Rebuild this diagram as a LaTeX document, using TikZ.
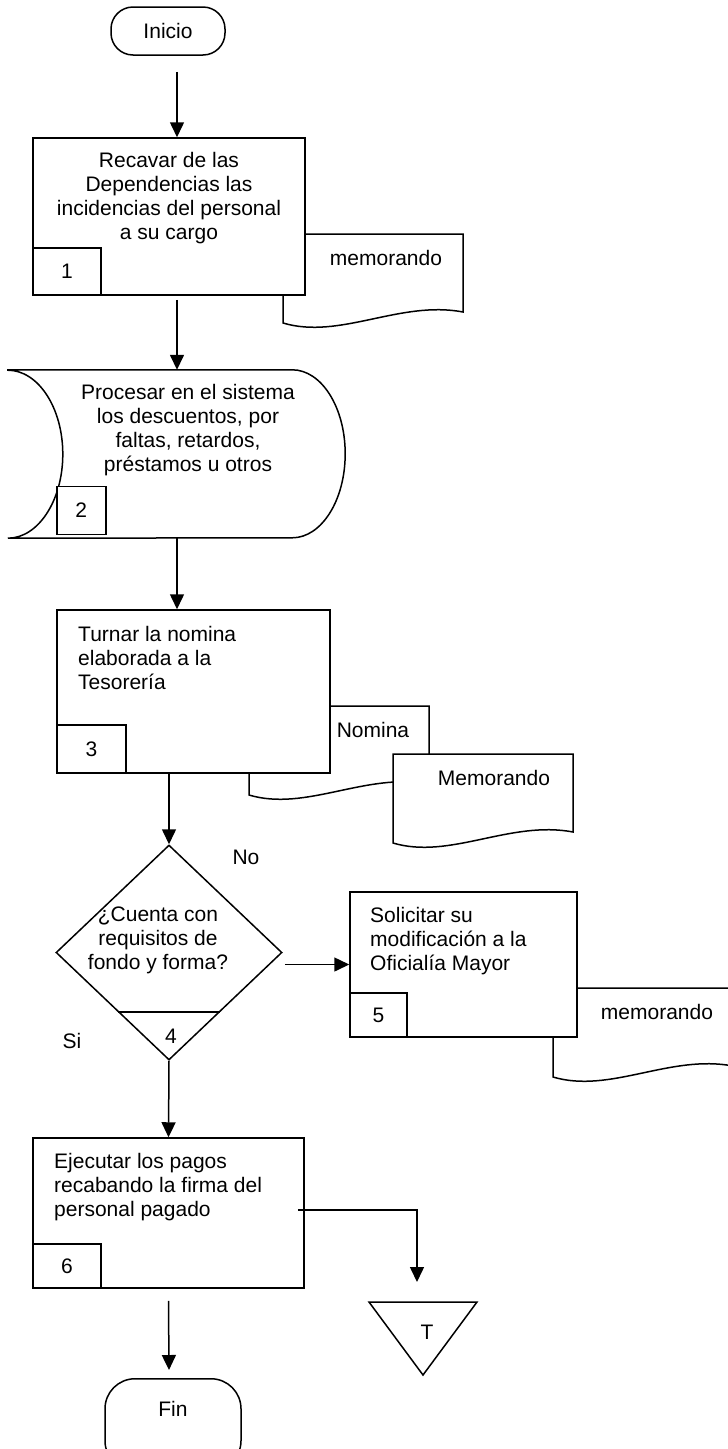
\documentclass[tikz,border=0pt]{standalone}
\usepackage{fontspec}
\setmainfont{Liberation Sans}
\usetikzlibrary{arrows.meta,shapes.geometric,calc}

\tikzset{
  txt/.style={font=\fontsize{21}{24}\selectfont, inner sep=0pt},
  box/.style={draw, line width=1.5pt, fill=white},
  numbox/.style={box, txt, anchor=south west},
  term/.style={box, txt, rounded corners=22pt},
  doc/.style={draw, line width=1.5pt, fill=white},
  arrow/.style={line width=1.5pt, -{Triangle[length=15pt,width=14pt]}},
}

\begin{document}
\begin{tikzpicture}[x=1pt, y=-1pt]
        \useasboundingbox (0,0) rectangle (728,1449);
        \fill[white] (0,0) rectangle (728,1449);
        \clip (0,0) rectangle (728,1449);

        % documents (behind the boxes)
        \foreach \dx/\dy/\tx/\lbl [count=\i] in {283/234/103/memorando, 249/706/124/Nomina, 393/754/101/Memorando, 553/988/104/memorando}{
            \draw[doc] (\dx,\dy) -- (\dx+180,\dy) -- (\dx+180,\dy+78)
                .. controls (\dx+117,\dy+66) and (\dx+57,\dy+106) .. (\dx,\dy+89) -- cycle;
            \node[txt] (doc\i) at (\dx+\tx,\dy+24) {\lbl};
        }

        % start
        \node[term, minimum width=114pt, minimum height=48pt] (ini) at (168,31) {Inicio};

        % 1
        \node[box, minimum width=272pt, minimum height=157pt] (b1) at (169,216.5) {};
        \node[txt, align=center] (t1) at (169,198.5) {Recavar de las\\Dependencias las\\incidencias del personal\\a su cargo};
        \node[numbox, minimum width=68pt, minimum height=47pt] (n1) at (b1.south west) {1};

        % 2
        \node[minimum width=284pt, minimum height=168pt, inner sep=0pt] (s2) at (150,454) {};
        \draw[box] (s2.north west) -- (s2.north east)
            arc[start angle=90, end angle=-90, x radius=53pt, y radius=84pt]
            -- (s2.south west)
            arc[start angle=-90, end angle=90, x radius=55pt, y radius=84pt] -- cycle;
        \node[txt, align=center] (t2) at (188,430) {Procesar en el sistema\\los descuentos, por\\faltas, retardos,\\préstamos u otros};
        \node[numbox, minimum width=49pt, minimum height=48pt] (n2) at (56,535) {2};

        % 3
        \node[box, minimum width=273pt, minimum height=163pt] (b3) at (193.5,691.5) {};
        \node[txt, anchor=west, align=left] (t3) at (78,658) {Turnar la nomina\\elaborada a la\\Tesorería};
        \node[numbox, minimum width=69pt, minimum height=48pt] (n3) at (b3.south west) {3};

        % 4
        \node[box, diamond, minimum width=226pt, minimum height=215pt, inner sep=0pt] (d4) at (169,952.5) {};
        \draw[line width=1.5pt] ($(d4.south)!0.45!(d4.west)$) -- ($(d4.south)!0.45!(d4.east)$);
        \node[txt, align=center] (t4) at (158,940) {¿Cuenta con\\requisitos de\\fondo y forma?};
        \node[txt] (n4) at (171,1036) {4};
        \node[txt] (no) at (246,857) {No};
        \node[txt] (si) at (72,1041) {Si};

        % 5
        \node[box, minimum width=227pt, minimum height=145pt] (b5) at (463.5,964.5) {};
        \node[txt, anchor=west, align=left] (t5) at (370,941) {Solicitar su\\modificación a la\\Oficialía Mayor};
        \node[numbox, minimum width=57pt, minimum height=44pt] (n5) at (b5.south west) {5};

        % 6
        \node[box, minimum width=271pt, minimum height=150pt] (b6) at (168.5,1213) {};
        \node[txt, anchor=west, align=left] (t6) at (54,1187) {Ejecutar los pagos\\recabando la firma del\\personal pagado};
        \node[numbox, minimum width=68pt, minimum height=44pt] (n6) at (b6.south west) {6};

        % connector T
        \draw[line width=1.5pt] (369,1302) -- (477,1302) -- (423,1375) -- cycle;
        \node[txt] (tT) at (427,1332) {T};
        \coordinate (trtop) at (417,1282);

        % end
        \node[term, anchor=north, minimum width=136pt, text height=15pt, text depth=32pt, inner ysep=22.5pt, rounded corners=30pt] (fin) at (173,1378) {Fin};

        % arrows
        \draw[arrow] ($(ini.south)+(9,16)$) -- ($(b1.north)+(8,0)$);
        \draw[arrow] ($(b1.south)+(8,4)$) -- ($(s2.north)+(27,0)$);
        \draw[arrow] ($(s2.south)+(27,0)$) -- ($(b3.north)+(-16.5,0)$);
        \draw[arrow] ($(b3.south)+(-24.5,0)$) -- (d4.north);
        \draw[arrow] ($(d4.east |- b5.west)+(2,0)$) -- (b5.west);
        \draw[arrow] (d4.south) -- (b6.north);
        \draw[arrow] ($(b6.east)+(-7,-3)$) -| (trtop);
        \draw[arrow] ($(b6.south)+(0,12)$) -- ($(fin.north)+(-4,-8)$);
    \end{tikzpicture}
\end{document}
